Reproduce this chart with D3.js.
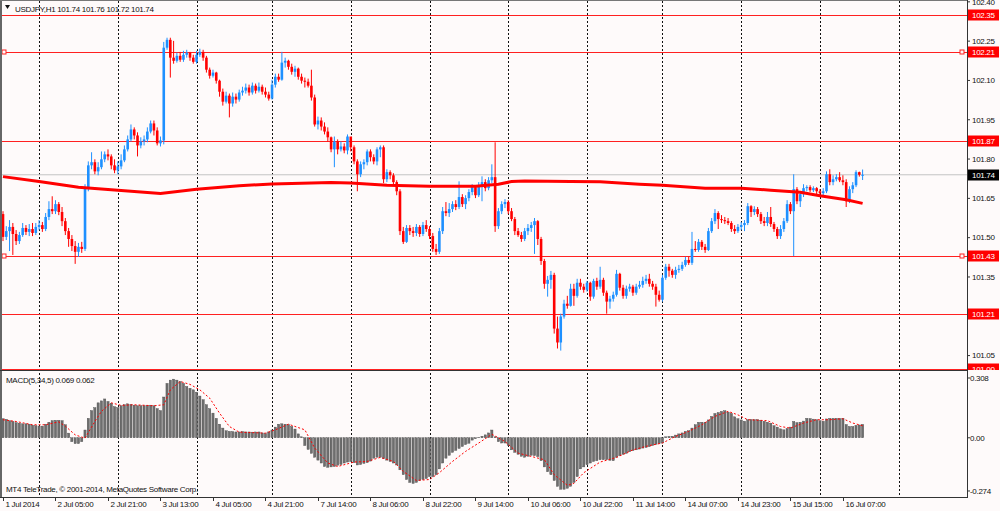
<!DOCTYPE html>
<html>
<head>
<meta charset="utf-8">
<title>USDJPY,H1</title>
<script src="https://cdn.jsdelivr.net/npm/d3@7"></script>
<style>
  body { margin:0; background:#fefafa; }
  svg { display:block; font-family:"Liberation Sans",Arial,sans-serif; font-size:8px; letter-spacing:-0.3px; }
</style>
</head>
<body>
<svg id="chart" width="1000" height="511"></svg>
<script>
// hourly bars, 1 Jul 00:00 .. 16 Jul 13:00 (open of each bar = previous close)
const firstOpen = 101.590;
const closes = [101.503,101.525,101.541,101.514,101.487,101.510,101.537,101.522,101.533,101.518,
101.541,101.548,101.533,101.579,101.609,101.601,101.628,101.598,101.563,101.525,
101.495,101.468,101.446,101.465,101.457,101.693,101.776,101.788,101.753,101.769,
101.799,101.818,101.810,101.776,101.757,101.772,101.795,101.837,101.875,101.913,
101.890,101.852,101.867,101.875,101.905,101.936,101.909,101.860,101.871,102.225,
102.255,102.187,102.175,102.194,102.179,102.198,102.206,102.187,102.171,102.198,
102.209,102.187,102.141,102.118,102.130,102.099,102.057,102.019,102.042,102.012,
102.038,102.027,102.054,102.061,102.073,102.054,102.080,102.061,102.076,102.057,
102.046,102.031,102.084,102.114,102.103,102.168,102.175,102.152,102.133,102.145,
102.114,102.099,102.095,102.080,102.035,101.932,101.947,101.924,101.905,101.883,
101.837,101.867,101.837,101.848,101.833,101.886,101.845,101.791,101.742,101.780,
101.788,101.829,101.807,101.791,101.837,101.845,101.723,101.750,101.738,101.712,
101.677,101.525,101.484,101.537,101.525,101.518,101.541,101.514,101.548,101.533,
101.506,101.457,101.446,101.525,101.601,101.594,101.609,101.628,101.617,101.655,
101.628,101.651,101.674,101.693,101.662,101.700,101.712,101.689,101.719,101.731,
101.544,101.601,101.628,101.636,101.601,101.571,101.525,101.510,101.495,101.525,
101.537,101.548,101.563,101.495,101.411,101.324,101.339,101.358,101.153,101.100,
101.199,101.248,101.240,101.305,101.278,101.328,101.313,101.301,101.328,101.275,
101.335,101.313,101.339,101.290,101.256,101.267,101.282,101.362,101.309,101.278,
101.305,101.313,101.290,101.313,101.320,101.335,101.343,101.324,101.313,101.282,
101.263,101.347,101.389,101.374,101.358,101.377,101.381,101.396,101.415,101.404,
101.457,101.453,101.484,101.465,101.453,101.525,101.563,101.594,101.571,101.567,
101.563,101.556,101.533,101.525,101.541,101.548,101.556,101.620,101.598,101.609,
101.590,101.563,101.556,101.579,101.552,101.533,101.506,101.533,101.563,101.628,
101.601,101.685,101.639,101.666,101.689,101.693,101.681,101.689,101.677,101.670,
101.677,101.742,101.712,101.723,101.731,101.719,101.712,101.639,101.685,101.700,
101.750,101.740,101.740];
const highs = [101.601,101.544,101.567,101.556,101.529,101.522,101.556,101.548,101.552,101.556,
101.556,101.567,101.560,101.594,101.639,101.658,101.643,101.636,101.617,101.575,
101.537,101.510,101.487,101.480,101.484,101.704,101.791,101.826,101.799,101.788,
101.829,101.829,101.837,101.818,101.799,101.791,101.818,101.852,101.890,101.932,
101.921,101.902,101.883,101.890,101.921,101.947,101.947,101.921,101.886,102.247,
102.263,102.263,102.251,102.206,102.209,102.213,102.217,102.209,102.198,102.213,
102.221,102.217,102.194,102.149,102.141,102.133,102.103,102.069,102.057,102.050,
102.054,102.050,102.065,102.076,102.088,102.084,102.092,102.088,102.092,102.084,
102.073,102.057,102.103,102.126,102.126,102.209,102.187,102.179,102.164,102.156,
102.149,102.126,102.111,102.107,102.141,102.046,101.962,101.959,101.940,101.921,
101.886,101.886,101.875,101.867,101.860,101.894,101.883,101.852,101.799,101.791,
101.799,101.837,101.837,101.818,101.845,101.852,101.852,101.761,101.757,101.746,
101.719,101.685,101.541,101.548,101.548,101.541,101.552,101.548,101.560,101.567,
101.544,101.518,101.476,101.537,101.617,101.636,101.632,101.639,101.643,101.715,
101.666,101.662,101.685,101.704,101.700,101.712,101.734,101.723,101.731,101.780,
101.864,101.613,101.639,101.647,101.643,101.613,101.579,101.537,101.522,101.537,
101.552,101.560,101.575,101.567,101.503,101.419,101.354,101.373,101.366,101.199,
101.210,101.263,101.278,101.324,101.324,101.343,101.343,101.324,101.335,101.332,
101.343,101.347,101.389,101.347,101.298,101.278,101.294,101.377,101.366,101.320,
101.317,101.324,101.320,101.324,101.335,101.351,101.358,101.362,101.335,101.324,
101.298,101.358,101.400,101.400,101.381,101.389,101.396,101.408,101.427,101.427,
101.522,101.487,101.495,101.491,101.476,101.537,101.575,101.609,101.601,101.586,
101.579,101.575,101.563,101.548,101.552,101.560,101.567,101.632,101.624,101.620,
101.617,101.598,101.579,101.598,101.617,101.560,101.541,101.548,101.575,101.643,
101.636,101.742,101.693,101.677,101.704,101.700,101.700,101.696,101.693,101.685,
101.689,101.753,101.761,101.738,101.742,101.750,101.738,101.723,101.696,101.712,
101.757,101.752,101.760];
const lows = [101.487,101.491,101.449,101.434,101.472,101.476,101.503,101.510,101.506,101.506,
101.510,101.529,101.522,101.525,101.567,101.590,101.590,101.586,101.544,101.510,
101.465,101.449,101.400,101.427,101.442,101.449,101.677,101.761,101.742,101.738,
101.761,101.788,101.795,101.761,101.746,101.742,101.761,101.788,101.829,101.867,
101.875,101.810,101.841,101.852,101.864,101.898,101.890,101.852,101.848,101.856,
102.217,102.111,102.164,102.168,102.171,102.171,102.187,102.175,102.164,102.164,
102.190,102.175,102.130,102.107,102.111,102.088,102.038,102.004,102.012,101.959,
102.000,102.012,102.019,102.042,102.050,102.042,102.046,102.050,102.054,102.046,
102.035,102.023,102.027,102.073,102.095,102.099,102.149,102.141,102.122,102.114,
102.103,102.088,102.073,102.073,102.023,101.924,101.913,101.909,101.894,101.867,
101.826,101.769,101.818,101.829,101.822,101.818,101.829,101.780,101.677,101.731,
101.761,101.776,101.791,101.780,101.776,101.807,101.708,101.712,101.723,101.700,
101.662,101.510,101.476,101.480,101.510,101.503,101.506,101.503,101.506,101.522,
101.495,101.446,101.434,101.438,101.514,101.582,101.579,101.598,101.605,101.609,
101.617,101.609,101.639,101.662,101.651,101.655,101.639,101.677,101.681,101.708,
101.522,101.533,101.590,101.613,101.590,101.563,101.510,101.503,101.484,101.487,
101.510,101.522,101.438,101.472,101.396,101.305,101.275,101.305,101.134,101.077,
101.069,101.191,101.229,101.237,101.240,101.271,101.301,101.290,101.294,101.259,
101.267,101.301,101.305,101.278,101.210,101.229,101.256,101.275,101.298,101.267,
101.267,101.294,101.278,101.282,101.305,101.309,101.324,101.313,101.301,101.237,
101.256,101.256,101.339,101.351,101.347,101.343,101.366,101.373,101.389,101.396,
101.396,101.446,101.446,101.453,101.442,101.449,101.518,101.552,101.533,101.556,
101.552,101.548,101.522,101.514,101.518,101.529,101.525,101.548,101.579,101.586,
101.579,101.552,101.544,101.544,101.541,101.522,101.495,101.495,101.522,101.556,
101.590,101.430,101.628,101.617,101.655,101.677,101.674,101.674,101.666,101.658,
101.662,101.670,101.700,101.700,101.715,101.712,101.700,101.617,101.632,101.670,
101.693,101.733,101.720];

// thick red moving average, read at a few bars
const maBars   = [0,11,23,35,48,59,72,82,100,106,117,130,144,151,155,159,173,182,194,201,214,225,234,243,249,257,262];
const maValues = [101.733,101.714,101.692,101.681,101.669,101.685,101.698,101.705,101.711,101.709,101.700,101.696,101.696,101.704,101.714,101.716,101.714,101.713,101.704,101.700,101.689,101.689,101.681,101.673,101.660,101.645,101.631];

// MACD(5,34,5) histogram, one value per bar
const macdHist = [0.098,0.095,0.088,0.084,0.078,0.075,0.072,0.072,0.070,0.065,
0.062,0.060,0.060,0.070,0.080,0.088,0.090,0.090,0.088,0.067,
0.024,-0.020,-0.030,-0.030,-0.020,0.040,0.100,0.140,0.155,0.180,
0.190,0.200,0.187,0.178,0.160,0.155,0.165,0.170,0.175,0.172,
0.168,0.165,0.165,0.165,0.166,0.168,0.165,0.150,0.140,0.210,
0.280,0.297,0.302,0.297,0.290,0.280,0.264,0.255,0.247,0.235,
0.215,0.196,0.170,0.150,0.127,0.100,0.070,0.050,0.036,0.033,
0.032,0.030,0.030,0.032,0.030,0.030,0.029,0.030,0.030,0.025,
0.022,0.030,0.040,0.055,0.070,0.072,0.070,0.068,0.058,0.045,
0.020,0.005,-0.040,-0.060,-0.080,-0.100,-0.115,-0.130,-0.148,-0.152,
-0.150,-0.148,-0.142,-0.138,-0.130,-0.125,-0.122,-0.128,-0.140,-0.138,
-0.132,-0.128,-0.120,-0.105,-0.100,-0.100,-0.108,-0.115,-0.122,-0.130,
-0.140,-0.165,-0.190,-0.215,-0.230,-0.235,-0.230,-0.220,-0.215,-0.210,
-0.200,-0.200,-0.190,-0.160,-0.130,-0.105,-0.090,-0.075,-0.065,-0.055,
-0.045,-0.035,-0.028,-0.012,-0.005,0.003,0.008,0.015,0.025,0.040,
0.005,-0.020,-0.027,-0.027,-0.040,-0.062,-0.075,-0.085,-0.095,-0.100,
-0.095,-0.090,-0.092,-0.097,-0.118,-0.150,-0.175,-0.190,-0.220,-0.250,
-0.265,-0.265,-0.260,-0.250,-0.230,-0.200,-0.160,-0.150,-0.139,-0.130,
-0.122,-0.118,-0.113,-0.113,-0.113,-0.116,-0.118,-0.100,-0.092,-0.085,
-0.080,-0.072,-0.066,-0.062,-0.058,-0.053,-0.050,-0.046,-0.040,-0.033,
-0.030,-0.027,0.005,0.007,0.008,0.014,0.020,0.025,0.033,0.036,
0.050,0.067,0.080,0.080,0.080,0.092,0.110,0.125,0.130,0.136,
0.139,0.132,0.125,0.108,0.098,0.092,0.085,0.093,0.094,0.093,
0.093,0.090,0.085,0.080,0.075,0.062,0.055,0.046,0.041,0.048,
0.055,0.084,0.078,0.080,0.086,0.100,0.099,0.096,0.093,0.088,
0.085,0.097,0.100,0.100,0.100,0.100,0.100,0.068,0.058,0.058,
0.064,0.066,0.069];

// signal line, read at a few bars
const signalBars   = [0,4,9,13,17,19,22,25,28,30,33,36,40,46,49,51,54,57,60,63,66,69,72,80,83,87,92,95,99,102,107,111,115,119,122,126,130,133,137,141,145,149,153,157,161,165,168,172,174,177,182,187,192,197,201,205,209,213,217,221,224,227,233,237,240,244,248,252,256,259,262];
const signalValues = [0.093,0.084,0.067,0.067,0.082,0.060,0.015,-0.002,0.084,0.136,0.180,0.167,0.170,0.165,0.170,0.247,0.290,0.275,0.247,0.204,0.127,0.058,0.029,0.024,0.041,0.070,0.041,-0.053,-0.130,-0.148,-0.125,-0.122,-0.101,-0.122,-0.173,-0.220,-0.215,-0.180,-0.122,-0.070,-0.027,0.018,-0.019,-0.079,-0.096,-0.113,-0.190,-0.245,-0.235,-0.180,-0.125,-0.101,-0.062,-0.040,-0.027,0.007,0.033,0.067,0.110,0.136,0.118,0.093,0.088,0.058,0.050,0.076,0.093,0.093,0.098,0.076,0.062];

const levels = [102.35, 102.21, 101.87, 101.43, 101.21, 101.00];
const markedLevels = [102.21, 101.43];
const lastPrice = 101.74;
const priceTicks = [101.05, 101.20, 101.35, 101.50, 101.65, 101.80, 101.95, 102.10, 102.25, 102.40];
const macdTicks = [0.308, 0, -0.274];
const timeBars = [0,16,32,48,64,80,96,112,128,144,160,176,192,208,224,240,256];
const timeLabels = ["1 Jul 2014","2 Jul 05:00","2 Jul 21:00","3 Jul 13:00","4 Jul 05:00","4 Jul 21:00","7 Jul 14:00","8 Jul 06:00","8 Jul 22:00","9 Jul 14:00","10 Jul 06:00","10 Jul 22:00","11 Jul 14:00","14 Jul 07:00","14 Jul 23:00","15 Jul 15:00","16 Jul 07:00"];
const gridBars = [11,35,59,82,106,130,154,178,201,225,249,273];

const W = 1000, H = 511;
const plotRight = 967, mainBottom = 370, subTop = 371, subBottom = 497;

const x  = d3.scaleLinear().domain([0, 262]).range([3, 862.6]);
const y  = d3.scaleLinear().domain([100.995, 102.407]).range([mainBottom, 0]);
const ym = d3.scaleLinear().domain([-0.305, 0.344]).range([subBottom, subTop]);

const svg = d3.select("#chart");
svg.append("rect").attr("width", W).attr("height", H).attr("fill", "#fefafa");

const defs = svg.append("defs");
defs.append("clipPath").attr("id", "clipMain").append("rect")
  .attr("x", 2).attr("y", 0).attr("width", plotRight - 2).attr("height", mainBottom);
defs.append("clipPath").attr("id", "clipSub").append("rect")
  .attr("x", 2).attr("y", subTop).attr("width", plotRight - 2).attr("height", subBottom - subTop);
defs.append("clipPath").attr("id", "clipLabels").append("rect")
  .attr("x", 0).attr("y", 0).attr("width", W).attr("height", mainBottom);

// dotted vertical grid through both panels
svg.append("g").selectAll("line").data(gridBars).join("line")
  .attr("x1", d => Math.round(x(d)) + 0.5).attr("x2", d => Math.round(x(d)) + 0.5)
  .attr("y1", 1).attr("y2", subBottom)
  .attr("stroke", "#111").attr("stroke-dasharray", "2,2");

// ---------- main panel ----------
const main = svg.append("g").attr("clip-path", "url(#clipMain)");

main.append("line")
  .attr("x1", 2).attr("x2", plotRight).attr("y1", y(lastPrice)).attr("y2", y(lastPrice))
  .attr("stroke", "#c4c4c4");

main.selectAll(".lvl").data(levels).join("line").attr("class", "lvl")
  .attr("x1", 2).attr("x2", plotRight)
  .attr("y1", d => Math.round(y(d)) + 0.5).attr("y2", d => Math.round(y(d)) + 0.5)
  .attr("stroke", "#ff2020");

markedLevels.forEach(v => {
  [4.5, plotRight - 4.5].forEach(cx => {
    main.append("rect").attr("x", cx - 2.5).attr("y", Math.round(y(v)) - 2)
      .attr("width", 4).attr("height", 4)
      .attr("fill", "#fefafa").attr("stroke", "#ff2020");
  });
});

const bars = closes.map((c, i) => ({
  i, o: i ? closes[i - 1] : firstOpen, h: highs[i], l: lows[i], c
}));
const up = "#1e90ff", down = "#ff0000";

const candles = main.append("g").selectAll("g").data(bars).join("g");
candles.append("line")
  .attr("x1", d => x(d.i)).attr("x2", d => x(d.i))
  .attr("y1", d => y(d.h)).attr("y2", d => y(d.l))
  .attr("stroke", d => d.c >= d.o ? up : down).attr("stroke-width", 1);
candles.append("rect")
  .attr("x", d => x(d.i) - 1.3).attr("width", 2.6)
  .attr("y", d => y(Math.max(d.o, d.c)))
  .attr("height", d => Math.max(1, Math.abs(y(d.o) - y(d.c))))
  .attr("fill", d => d.c >= d.o ? up : down);

main.append("path")
  .attr("d", d3.line().x(d => x(d[0])).y(d => y(d[1]))(maBars.map((b, k) => [b, maValues[k]])))
  .attr("fill", "none").attr("stroke", "#ff0000").attr("stroke-width", 3);

// ---------- MACD panel ----------
const sub = svg.append("g").attr("clip-path", "url(#clipSub)");
sub.selectAll("rect").data(macdHist).join("rect")
  .attr("x", (d, i) => x(i) - 1.1).attr("width", 2.2)
  .attr("y", d => ym(Math.max(0, d)))
  .attr("height", d => Math.max(0.5, Math.abs(ym(d) - ym(0))))
  .attr("fill", "#6e6e6e").attr("stroke", "#4a4a4a").attr("stroke-width", 0.4);
sub.append("path")
  .attr("d", d3.line().x(d => x(d[0])).y(d => ym(d[1]))(signalBars.map((b, k) => [b, signalValues[k]])))
  .attr("fill", "none").attr("stroke", "#ff0000").attr("stroke-width", 1).attr("stroke-dasharray", "2,2");

// ---------- frames ----------
svg.append("line").attr("x1", 1).attr("x2", 1).attr("y1", 0).attr("y2", subBottom).attr("stroke", "#666").attr("stroke-width", 2);
svg.append("line").attr("x1", 0).attr("x2", plotRight).attr("y1", 0.5).attr("y2", 0.5).attr("stroke", "#777");
svg.append("line").attr("x1", 0).attr("x2", plotRight).attr("y1", 370.5).attr("y2", 370.5).attr("stroke", "#333");
svg.append("line").attr("x1", 0).attr("x2", plotRight + 0.5).attr("y1", subBottom + 0.5).attr("y2", subBottom + 0.5).attr("stroke", "#333");
svg.append("line").attr("x1", plotRight + 0.5).attr("x2", plotRight + 0.5).attr("y1", 0).attr("y2", subBottom + 1).attr("stroke", "#333");

// ---------- right price axis ----------
const axisR = svg.append("g");
axisR.selectAll(".pt").data(priceTicks).join("g").attr("class", "pt")
  .attr("transform", d => `translate(0,${y(d)})`)
  .call(g => g.append("line").attr("x1", plotRight).attr("x2", plotRight + 3).attr("stroke", "#333"))
  .call(g => g.append("text").attr("x", 972).attr("dy", "0.35em").attr("fill", "#111").text(d => d.toFixed(2)));

const tags = svg.append("g").attr("clip-path", "url(#clipLabels)");
function tag(v, bg) {
  const g = tags.append("g").attr("transform", `translate(0,${Math.round(y(v))})`);
  g.append("rect").attr("x", 968).attr("y", -5.5).attr("width", 31).attr("height", 11).attr("fill", bg);
  g.append("text").attr("x", 972).attr("dy", "0.35em").attr("fill", "#fff").text(v.toFixed(2));
}
levels.forEach(v => tag(v, "#ff0000"));
tag(lastPrice, "#000");

svg.append("g").selectAll("g").data(macdTicks).join("g")
  .attr("transform", d => `translate(0,${ym(d)})`)
  .call(g => g.append("line").attr("x1", plotRight).attr("x2", plotRight + 3).attr("stroke", "#333"))
  .call(g => g.append("text").attr("x", 970).attr("dy", "0.35em").attr("fill", "#111")
    .text(d => d === 0 ? "0.00" : d.toFixed(3)));

// ---------- time axis ----------
const tAxis = svg.append("g").selectAll("g").data(timeBars).join("g")
  .attr("transform", d => `translate(${Math.round(x(d)) + 0.5},0)`);
tAxis.append("line").attr("y1", subBottom + 1).attr("y2", subBottom + 4).attr("stroke", "#333");
tAxis.append("text").attr("x", 2).attr("y", 507).attr("fill", "#111").text((d, k) => timeLabels[k]);

// ---------- texts ----------
svg.append("path").attr("d", "M5,5 L10,5 L7.5,9 Z").attr("fill", "#111");
svg.append("text").attr("x", 15).attr("y", 11.5).attr("fill", "#111")
  .text("USDJPY,H1  101.74 101.76 101.72 101.74");
svg.append("text").attr("x", 6).attr("y", 383).attr("fill", "#111")
  .text(`MACD(5,34,5) ${macdHist[macdHist.length - 1].toFixed(3)} ${signalValues[signalValues.length - 1].toFixed(3)}`);
svg.append("text").attr("x", 6).attr("y", 492).attr("fill", "#111")
  .text("MT4 TeleTrade, © 2001-2014, MetaQuotes Software Corp.");
</script>
</body>
</html>
